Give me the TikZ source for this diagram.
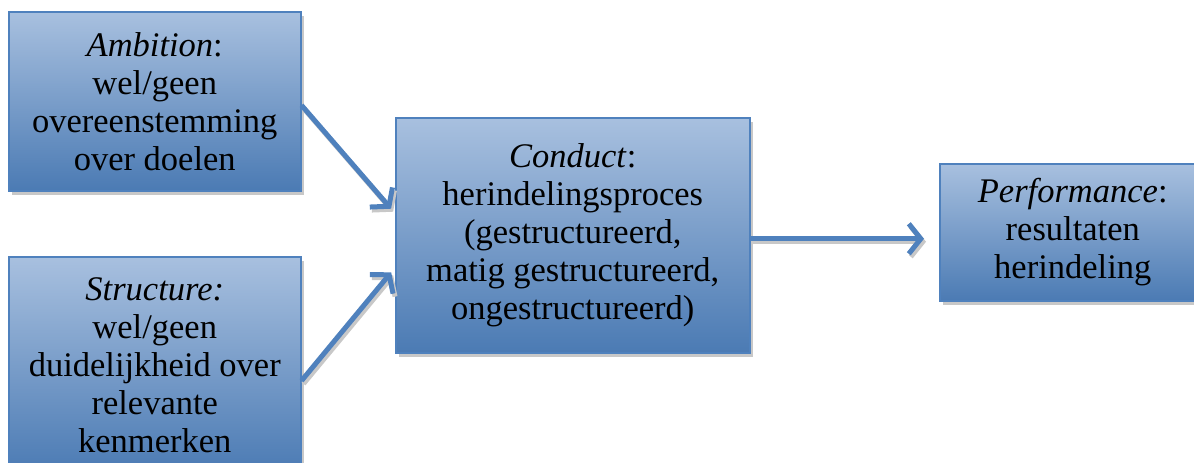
\documentclass[tikz,border=0pt]{standalone}
\usepackage{fontspec}
\setmainfont{Liberation Serif}
\usetikzlibrary{arrows.meta,shadows}
\definecolor{accent}{RGB}{79,129,189}
\definecolor{topc}{RGB}{168,192,223}
\definecolor{shadowc}{RGB}{200,200,200}
\begin{document}
\begin{tikzpicture}[x=1pt,y=-1pt,
  box/.style={draw=accent, line width=1.5pt, top color=topc, bottom color=accent!95!black,
    align=center, font=\fontsize{34.5}{38}\selectfont, inner sep=0pt, anchor=north west,
    drop shadow={shadow xshift=3pt, shadow yshift=-4pt, fill=shadowc, opacity=1}},
  arr/.style={line width=5pt, -{Straight Barb[length=12pt,width=30pt]}, draw=accent},
  arrsh/.style={line width=5pt, -{Straight Barb[length=12pt,width=30pt]}, draw=shadowc}]
\useasboundingbox (0,0) rectangle (1194,463);
\node[box, minimum width=292pt, minimum height=179pt] (amb) at (8,11)
  {\textit{Ambition}:\\wel/geen\\overeenstemming\\over doelen};
\node[box, minimum width=292pt, minimum height=216pt] (str) at (8,256)
  {\textit{Structure:}\\wel/geen\\duidelijkheid over\\relevante\\kenmerken};
\node[box, minimum width=354pt, minimum height=235pt] (cond) at (395,117)
  {\textit{Conduct}:\\herindelingsproces\\(gestructureerd,\\matig gestructureerd,\\ongestructureerd)};
\node[box, minimum width=266pt, minimum height=137pt] (perf) at (939,163)
  {\textit{Performance}:\\resultaten\\herindeling};
\begin{scope}[transform canvas={shift={(2pt,-3pt)}}]
\draw[arrsh, shorten >=6pt] ([yshift=-4pt]amb.east) -- ([yshift=22pt]cond.west);
\draw[arrsh, shorten >=6pt] ([yshift=-16pt]str.east) -- ([yshift=-32.5pt]cond.west);
\draw[arrsh, shorten >=15pt] ([yshift=-3.5pt]cond.east) -- ([yshift=-6.5pt]perf.west);
\end{scope}
\draw[arr, shorten >=6pt] ([yshift=-4pt]amb.east) -- ([yshift=22pt]cond.west);
\draw[arr, shorten >=6pt] ([yshift=-16pt]str.east) -- ([yshift=-32.5pt]cond.west);
\draw[arr, shorten >=15pt] ([yshift=-3.5pt]cond.east) -- ([yshift=-6.5pt]perf.west);
\end{tikzpicture}
\end{document}
